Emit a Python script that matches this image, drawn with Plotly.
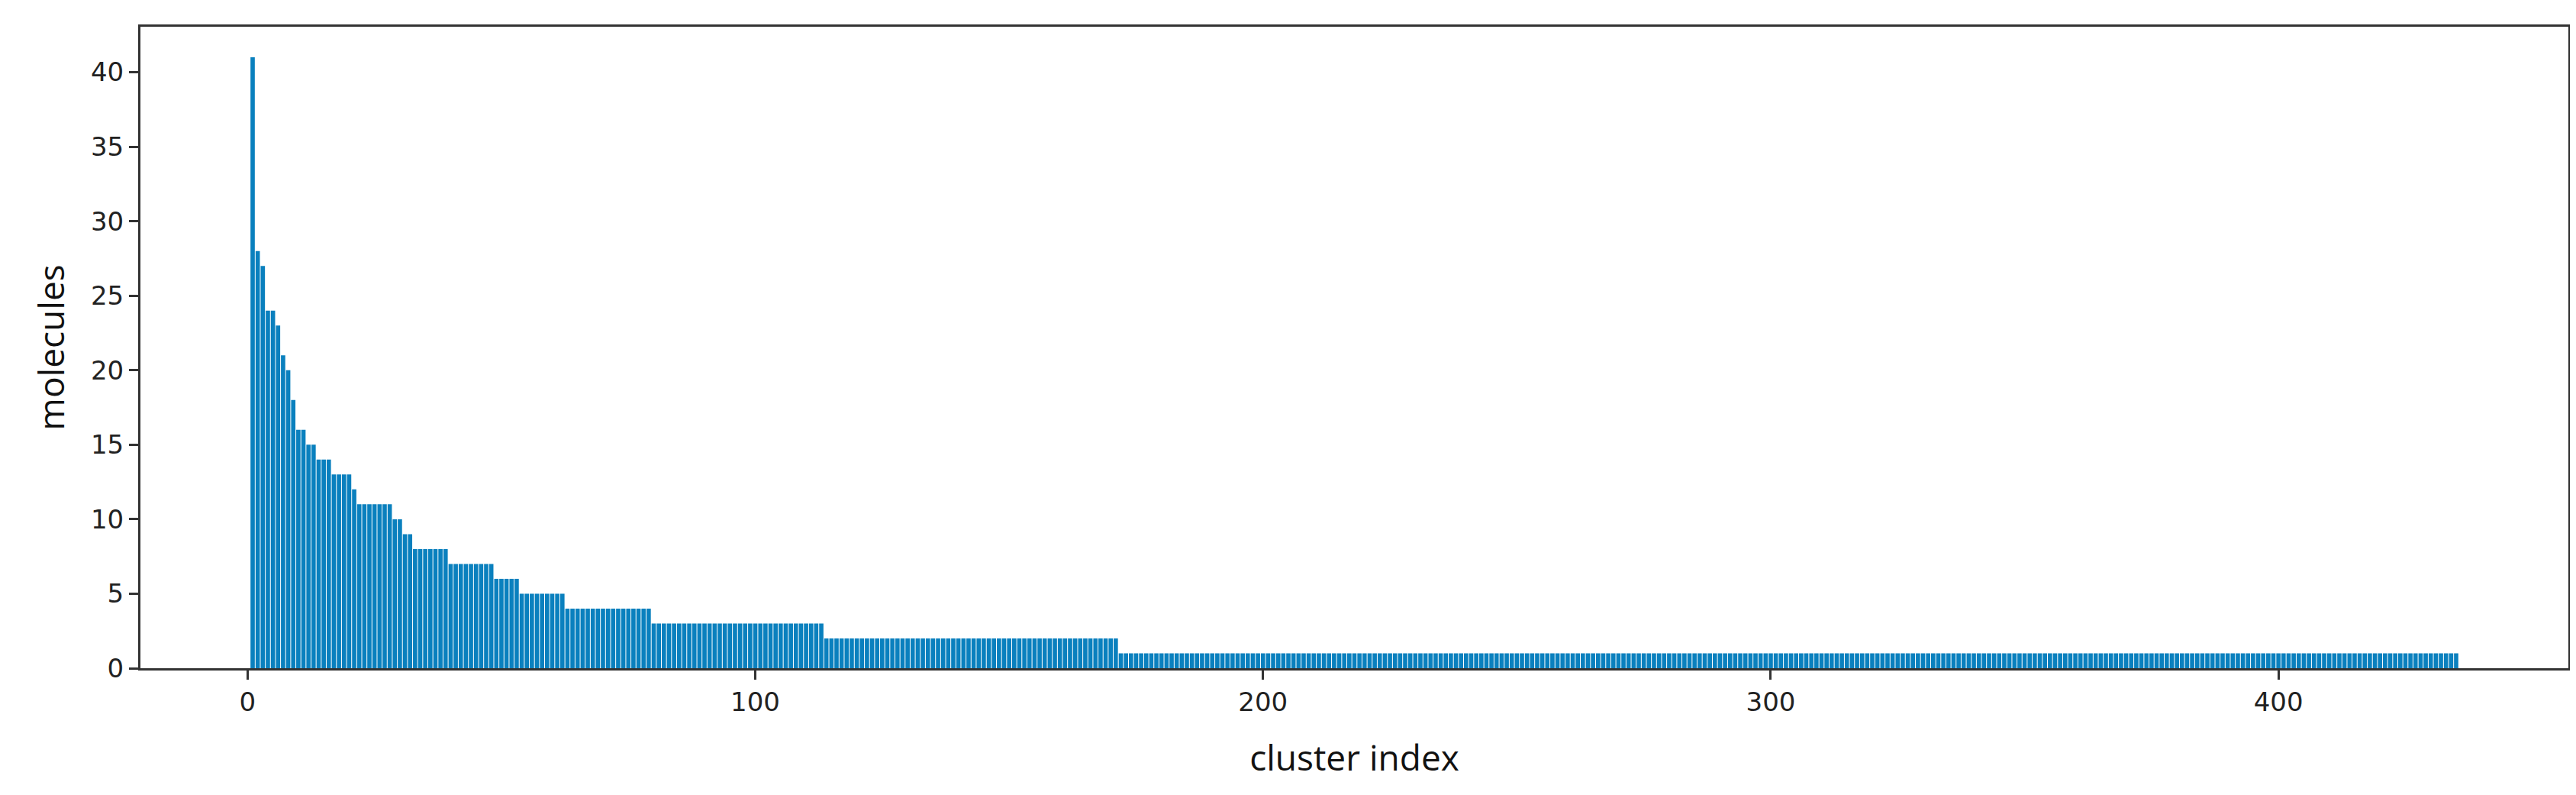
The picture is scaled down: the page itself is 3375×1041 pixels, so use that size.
import plotly.graph_objects as go

# run-length description of sorted cluster sizes: (first index, last index, molecules)
run_start = [1, 2, 3, 4, 6, 7, 8, 9, 10, 12, 14, 17, 21, 22, 29, 31, 33, 40, 49, 54, 63, 80, 114, 172]
run_end   = [1, 2, 3, 5, 6, 7, 8, 9, 11, 13, 16, 20, 21, 28, 30, 32, 39, 48, 53, 62, 79, 113, 171, 435]
run_value = [41, 28, 27, 24, 23, 21, 20, 18, 16, 15, 14, 13, 12, 11, 10, 9, 8, 7, 6, 5, 4, 3, 2, 1]

cluster_index = []
molecules = []
for s, e, v in zip(run_start, run_end, run_value):
    for i in range(s, e + 1):
        cluster_index.append(i)
        molecules.append(v)

x_ticks = [0, 100, 200, 300, 400]
y_ticks = [0, 5, 10, 15, 20, 25, 30, 35, 40]

fig = go.Figure(go.Bar(x=cluster_index, y=molecules, width=0.85,
                       marker=dict(color="#0A80BE", line=dict(width=0))))

axis_common = dict(showline=True, linecolor="#333", linewidth=3, mirror=True,
                   ticks="outside", ticklen=12, tickwidth=3, tickcolor="#333",
                   showgrid=False, zeroline=False,
                   tickfont=dict(family="DejaVu Sans", size=34, color="#222"))
fig.update_layout(
    width=3375, height=1041, plot_bgcolor="white", paper_bgcolor="white",
    margin=dict(l=176, r=18, t=27, b=174), showlegend=False,
    xaxis=dict(range=[-21.1, 457.1], tickvals=x_ticks,
               title=dict(text="cluster index", font=dict(family="Open Sans", size=46, color="#111"), standoff=40),
               **axis_common),
    yaxis=dict(range=[0, 43.05], tickvals=y_ticks,
               title=dict(text="molecules", font=dict(family="Open Sans", size=46, color="#111"), standoff=20),
               **axis_common),
)
fig.write_html("out.html")
